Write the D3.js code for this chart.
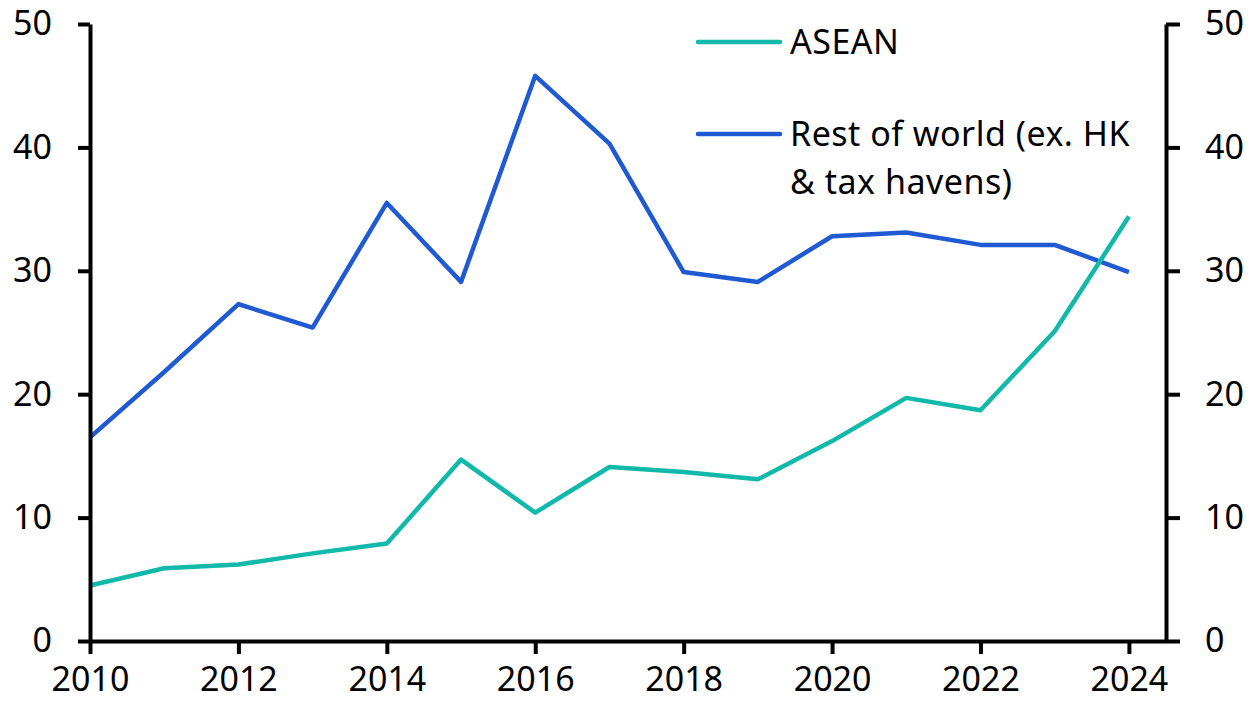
<!DOCTYPE html>
<html>
<head>
<meta charset="utf-8">
<script src="https://cdn.jsdelivr.net/npm/d3@7"></script>
<style>
  body { margin: 0; background: #fff; }
  svg text { font-family: "Noto Sans", sans-serif; fill: #000; }
</style>
</head>
<body>
<svg id="chart" width="1250" height="707"></svg>
<script>
const years = d3.range(2010, 2025);
const asean = [4.5, 5.9, 6.2, 7.1, 7.9, 14.7, 10.4, 14.1, 13.7, 13.1, 16.2, 19.7, 18.7, 25.1, 34.4];
const restOfWorld = [16.5, 21.8, 27.3, 25.4, 35.5, 29.1, 45.8, 40.3, 29.9, 29.1, 32.8, 33.1, 32.1, 32.1, 29.9];
const yTicks = [0, 10, 20, 30, 40, 50];
const xTicks = [2010, 2012, 2014, 2016, 2018, 2020, 2022, 2024];
const seriesNames = ["ASEAN", "Rest of world (ex. HK", "& tax havens)"];

const svg = d3.select("#chart"),
  plotLeft = 90, plotRight = 1166, plotTop = 24, plotBottom = 641,
  fontSize = 34;

const x = d3.scaleLinear().domain([2010, 2024.5]).range([plotLeft, plotRight]);
const y = d3.scaleLinear().domain([0, 50]).range([plotBottom, plotTop]);

// lines
const line = d3.line()
  .x((d, i) => x(years[i]))
  .y(d => y(d));

svg.append("path")
  .datum(restOfWorld)
  .attr("d", line)
  .attr("fill", "none")
  .attr("stroke", "#1f5ad3")
  .attr("stroke-width", 4.5)
  .attr("stroke-linejoin", "round");

svg.append("path")
  .datum(asean)
  .attr("d", line)
  .attr("fill", "none")
  .attr("stroke", "#10b9a9")
  .attr("stroke-width", 4.5)
  .attr("stroke-linejoin", "round");

// axes
function styleAxis(g) {
  g.selectAll("path, line").attr("stroke", "#000").attr("stroke-width", 4);
  g.selectAll("text").attr("font-size", fontSize).attr("font-family", "Noto Sans").attr("fill", "#000");
}

svg.append("g")
  .attr("transform", `translate(${plotLeft},0)`)
  .call(d3.axisLeft(y).tickValues(yTicks).tickSize(12).tickSizeOuter(0).tickPadding(26))
  .call(styleAxis);

svg.append("g")
  .attr("transform", `translate(${plotRight},0)`)
  .call(d3.axisRight(y).tickValues(yTicks).tickSize(14).tickSizeOuter(0).tickPadding(25))
  .call(g => g.selectAll("text").attr("text-anchor", "start"))
  .call(styleAxis);

svg.append("g")
  .attr("transform", `translate(0,${plotBottom})`)
  .call(d3.axisBottom(x).tickValues(xTicks).tickFormat(d3.format("d")).tickSize(13).tickSizeOuter(0).tickPadding(13))
  .call(styleAxis);

// legend
const legend = svg.append("g").attr("font-size", fontSize).attr("letter-spacing", 0.5);
legend.append("line")
  .attr("x1", 698).attr("x2", 780).attr("y1", 42).attr("y2", 42)
  .attr("stroke", "#10b9a9").attr("stroke-width", 4.5).attr("stroke-linecap", "round");
legend.append("line")
  .attr("x1", 698).attr("x2", 780).attr("y1", 134).attr("y2", 134)
  .attr("stroke", "#1f5ad3").attr("stroke-width", 4.5).attr("stroke-linecap", "round");
legend.append("text").attr("x", 790).attr("y", 54).text(seriesNames[0]);
legend.append("text").attr("x", 790).attr("y", 146).text(seriesNames[1]);
legend.append("text").attr("x", 790).attr("y", 194).text(seriesNames[2]);
</script>
</body>
</html>
